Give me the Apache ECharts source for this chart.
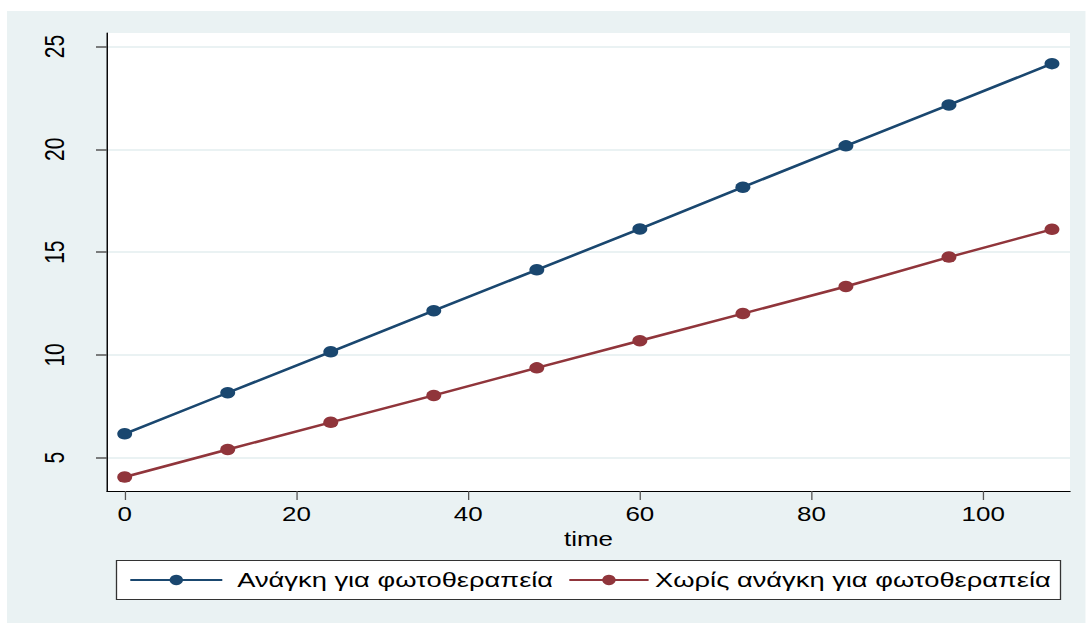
<!DOCTYPE html>
<html>
<head>
<meta charset="utf-8">
<script src="https://cdn.jsdelivr.net/npm/echarts@6/dist/echarts.min.js"></script>
<style>
html,body{margin:0;padding:0;background:#ffffff;overflow:hidden;width:1086px;height:623px;}
/* the reference is a horizontally stretched picture: draw at 1/1.3 width and stretch */
#chart{width:835.4px;height:623px;transform:scaleX(1.3);transform-origin:0 0;}
</style>
</head>
<body>
<div id="chart"></div>
<script>
// ---- data ----
var timePoints = [0, 12, 24, 36, 48, 60, 72, 84, 96, 108];
var needPhoto = [6.16, 8.16, 10.15, 12.15, 14.14, 16.13, 18.16, 20.17, 22.16, 24.17];
var noNeedPhoto = [4.06, 5.40, 6.72, 8.03, 9.37, 10.69, 12.01, 13.33, 14.76, 16.11];
var seriesNames = ['Ανάγκη για φωτοθεραπεία', 'Χωρίς ανάγκη για φωτοθεραπεία'];
var xTicks = [0, 20, 40, 60, 80, 100];
var yTicks = [5, 10, 15, 20, 25];
var xTitle = 'time';

function pairs(xs, ys) { return xs.map(function (x, i) { return [x, ys[i]]; }); }

var S = 1.3; // horizontal stretch of the picture
var FONT = '"Liberation Sans", Arial, sans-serif';
var BLUE = '#1A476F';
var RED = '#90353B';

var chart = echarts.init(document.getElementById('chart'), null, {renderer: 'svg', width: 1086 / S, height: 623});
chart.setOption({
  backgroundColor: 'transparent',
  animation: false,
  textStyle: {fontFamily: FONT},
  graphic: [
    {type: 'rect', z: -100, silent: true, shape: {x: 7 / S, y: 11, width: 1079 / S, height: 612}, style: {fill: '#EAF2F3'}},
    {type: 'rect', z: -90, silent: true, shape: {x: 107 / S, y: 33, width: 963 / S, height: 458}, style: {fill: '#ffffff'}},
    {type: 'rect', z: -50, silent: true, shape: {x: 116.5 / S, y: 560.5, width: 944 / S, height: 39}, style: {fill: '#ffffff', stroke: '#333333', lineWidth: 1}}
  ],
  grid: {left: 107 / S, top: 33, width: 963 / S, height: 458, containLabel: false},
  legend: [
    {
      data: [seriesNames[0]], left: 129 / S, top: 568, padding: 0,
      itemWidth: 92 / S, itemHeight: 13,
      textStyle: {fontSize: 21, color: '#000', fontFamily: FONT, padding: [0, 0, 0, 6.5], lineHeight: 24}
    },
    {
      data: [seriesNames[1]], left: 568 / S, top: 568, padding: 0,
      itemWidth: 61, itemHeight: 13,
      textStyle: {fontSize: 21, color: '#000', fontFamily: FONT, lineHeight: 24}
    }
  ],
  xAxis: {
    type: 'value', min: -2.06, max: 110.1,
    name: xTitle, nameLocation: 'middle', nameGap: 33,
    nameTextStyle: {fontSize: 20, color: '#000', fontFamily: FONT},
    axisLine: {show: true, onZero: false, lineStyle: {color: '#000', width: 1.2}},
    axisTick: {show: true, length: 9, customValues: xTicks, lineStyle: {color: '#555', width: 1}},
    axisLabel: {customValues: xTicks, fontSize: 20, color: '#000', margin: 13, fontFamily: FONT},
    splitLine: {show: false}
  },
  yAxis: {
    type: 'value', min: 3.38, max: 25.66,
    axisLine: {show: true, onZero: false, lineStyle: {color: '#000', width: 1.1}},
    axisTick: {show: true, length: 11 / S, customValues: yTicks, lineStyle: {color: '#555', width: 1.5}},
    axisLabel: {customValues: yTicks, rotate: 90, fontSize: 21, color: '#000', margin: 30, fontFamily: FONT},
    splitLine: {show: true, customValues: yTicks, lineStyle: {color: '#EAF2F3', width: 2}}
  },
  series: [
    {
      name: seriesNames[0], type: 'line', data: pairs(timePoints, needPhoto),
      symbol: 'circle', symbolSize: 11.5, showSymbol: true,
      lineStyle: {color: BLUE, width: 2.5}, itemStyle: {color: BLUE}
    },
    {
      name: seriesNames[1], type: 'line', data: pairs(timePoints, noNeedPhoto),
      symbol: 'circle', symbolSize: 11.5, showSymbol: true,
      lineStyle: {color: RED, width: 2.5}, itemStyle: {color: RED}
    }
  ]
});
</script>
</body>
</html>
